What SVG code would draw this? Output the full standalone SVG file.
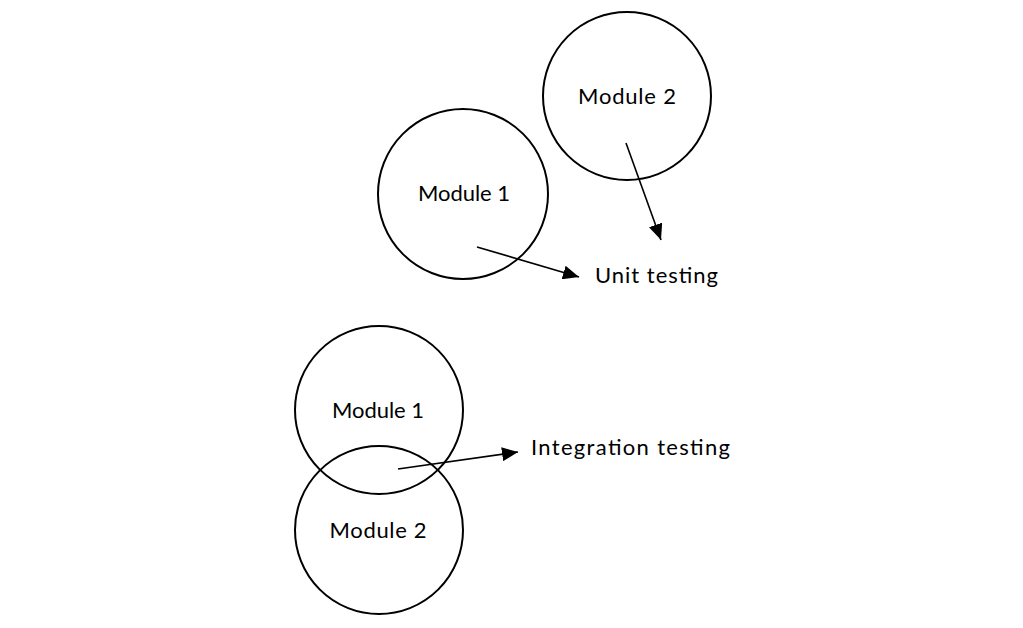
<svg xmlns="http://www.w3.org/2000/svg" width="1023" height="628" viewBox="0 0 1023 628">
<defs>
<style>
.node{fill:none;stroke:#000;stroke-width:2}
.lbl{font-family:Lato,"Liberation Sans",sans-serif;font-size:22px;fill:#000;text-anchor:middle}
.cap{font-family:Lato,"Liberation Sans",sans-serif;font-size:22px;fill:#000}
.edge{stroke:#000;stroke-width:1.6;fill:none}
</style>
<marker id="ah" markerUnits="userSpaceOnUse" markerWidth="18" markerHeight="14" refX="16" refY="7" orient="auto">
<path d="M0,0 L16,7 L0,14 Z" fill="#000"/>
</marker>
</defs>
<rect width="1023" height="628" fill="#fff"/>
<g id="top-module2">
<circle class="node" cx="627" cy="96" r="84"/>
<text class="lbl" x="627" y="104" textLength="98" lengthAdjust="spacing">Module 2</text>
</g>
<g id="top-module1">
<circle class="node" cx="463" cy="194" r="85"/>
<text class="lbl" x="464" y="201" textLength="92" lengthAdjust="spacing">Module 1</text>
</g>
<g id="bottom-module1">
<circle class="node" cx="379" cy="410" r="84"/>
<text class="lbl" x="378" y="418" textLength="92" lengthAdjust="spacing">Module 1</text>
</g>
<g id="bottom-module2">
<circle class="node" cx="379" cy="530" r="84"/>
<text class="lbl" x="378" y="538" textLength="97" lengthAdjust="spacing">Module 2</text>
</g>
<g id="unit-testing">
<text class="cap" x="595" y="283" textLength="123" lengthAdjust="spacing">Unit testing</text>
</g>
<g id="integration-testing">
<text class="cap" x="531" y="455" textLength="199" lengthAdjust="spacing">Integration testing</text>
</g>
<g id="connectors">
<line class="edge" x1="626" y1="143" x2="661" y2="240" marker-end="url(#ah)"/>
<line class="edge" x1="477" y1="247" x2="579" y2="277" marker-end="url(#ah)"/>
<line class="edge" x1="398" y1="469" x2="518" y2="452" marker-end="url(#ah)"/>
</g>
</svg>
